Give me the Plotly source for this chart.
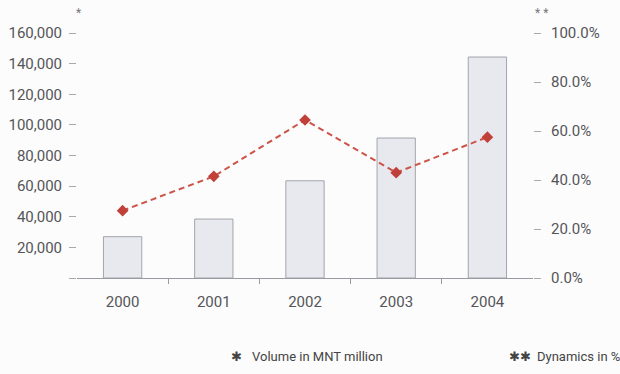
import plotly.graph_objects as go

# Yearly data
years = ["2000", "2001", "2002", "2003", "2004"]
volume_mnt_million = [27000, 38500, 63500, 91400, 144300]
dynamics_pct = [27.5, 41.5, 64.5, 43.0, 57.5]

left_ticks = [0, 20000, 40000, 60000, 80000, 100000, 120000, 140000, 160000]
left_ticktext = ["", "20,000", "40,000", "60,000", "80,000", "100,000",
                 "120,000", "140,000", "160,000"]
right_ticks = [0, 20, 40, 60, 80, 100]
right_ticktext = ["0.0%", "20.0%", "40.0%", "60.0%", "80.0%", "100.0%"]

FONT = "Roboto, Liberation Sans Narrow, sans-serif"
TXT = "#555558"

L, R, T, B = 77, 87, 33, 96
W, H = 620, 374

# Years sit at integer positions; separator ticks fall halfway between them
pos = list(range(len(years)))
separators = [p + 0.5 for p in pos[:-1]]

fig = go.Figure()

fig.add_trace(go.Bar(
    x=pos, y=volume_mnt_million, width=0.42,
    marker=dict(color="#e8e8ef", line=dict(color="#a4a4ac", width=1)),
    yaxis="y", showlegend=False,
))

fig.add_trace(go.Scatter(
    x=pos, y=dynamics_pct, mode="lines+markers", yaxis="y2",
    line=dict(color="#cc5448", width=2, dash="6px,4px"),
    marker=dict(symbol="diamond", size=9, color="#c0403a"),
    showlegend=False,
))

fig.update_layout(
    width=W, height=H,
    margin=dict(l=L, r=R, t=T, b=B),
    paper_bgcolor="#fcfcfc", plot_bgcolor="#fcfcfc",
    font=dict(family=FONT, size=15, color=TXT),
    xaxis=dict(
        range=[-0.5, len(years) - 0.5], automargin=False,
        tickvals=pos, ticktext=years, ticks="",
        showline=True, linecolor="#9a9aa0", linewidth=1,
        showgrid=False, zeroline=False,
        minor=dict(tickvals=separators, ticks="outside", ticklen=5,
                   tickcolor="#9a9aa0", showgrid=False),
        tickfont=dict(family=FONT, size=15, color=TXT),
        ticklabelstandoff=10,
    ),
    yaxis=dict(
        range=[0, 160000], tickvals=left_ticks, ticktext=left_ticktext,
        automargin=False,
        showline=False, showgrid=False, zeroline=False,
        ticks="outside", ticklen=7, tickcolor="#a8a8ae",
        tickfont=dict(family=FONT, size=15, color=TXT),
        ticklabelstandoff=4,
    ),
    yaxis2=dict(
        range=[0, 100], tickvals=right_ticks, ticktext=right_ticktext,
        overlaying="y", side="right", automargin=False,
        showline=False, showgrid=False, zeroline=False,
        ticks="outside", ticklen=7, tickcolor="#a8a8ae",
        tickfont=dict(family=FONT, size=15, color=TXT),
        ticklabelstandoff=7,
    ),
)


def px_to_paper(x, y):
    return (x - L) / (W - L - R), 1 - (y - T) / (H - T - B)


# Axis markers above each value axis
for x, y, text in [(78, 13, "*"), (541, 13, "* *")]:
    px, py = px_to_paper(x, y)
    fig.add_annotation(
        xref="paper", yref="paper", showarrow=False, x=px, y=py,
        xanchor="center", yanchor="middle",
        text=text, font=dict(family=FONT, size=12, color="#777"),
    )

# Footnote key
for x, text, anchor in [
    (236, "✱", "center"),
    (250, "Volume in MNT million", "left"),
    (520, "✱✱", "center"),
    (535, "Dynamics in %", "left"),
]:
    px, py = px_to_paper(x, 356)
    fig.add_annotation(
        xref="paper", yref="paper", showarrow=False, x=px, y=py,
        xanchor=anchor, yanchor="middle",
        text=text, font=dict(family=FONT, size=13, color="#444"),
    )

fig.write_html("out.html")
